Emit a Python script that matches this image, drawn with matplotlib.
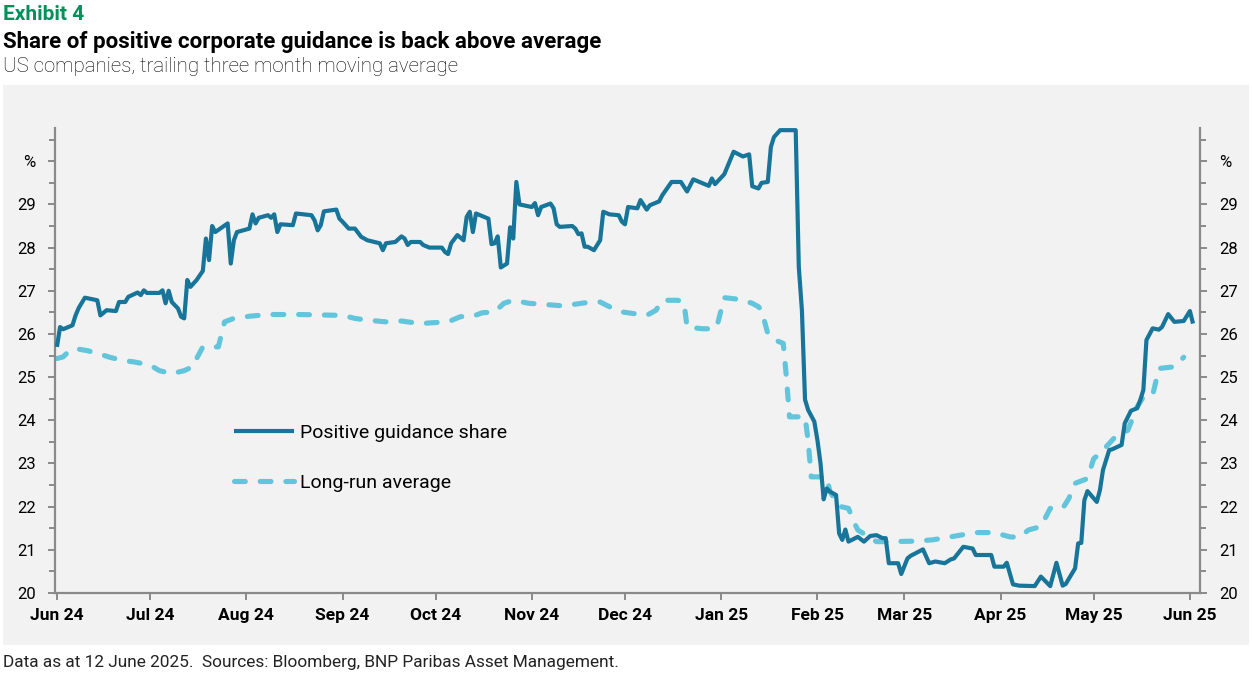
import matplotlib
matplotlib.use("Agg")
import matplotlib.pyplot as plt
import pandas as pd
from matplotlib.ticker import FixedLocator, MultipleLocator, FuncFormatter
from matplotlib.patches import Rectangle
import matplotlib.dates as mdates

# ---------------- data ----------------
guidance_dates = [
    "2024-06-01", "2024-06-02", "2024-06-03", "2024-06-06", "2024-06-07", "2024-06-08", "2024-06-10", "2024-06-14",
    "2024-06-15", "2024-06-17", "2024-06-20", "2024-06-21", "2024-06-23", "2024-06-24", "2024-06-27", "2024-06-28",
    "2024-06-29", "2024-06-30",
    "2024-07-04", "2024-07-05", "2024-07-06", "2024-07-07", "2024-07-08", "2024-07-10", "2024-07-11", "2024-07-12",
    "2024-07-13", "2024-07-14", "2024-07-16", "2024-07-18", "2024-07-19", "2024-07-20", "2024-07-21", "2024-07-22",
    "2024-07-26", "2024-07-27", "2024-07-28", "2024-07-29",
    "2024-08-02", "2024-08-03", "2024-08-04", "2024-08-05", "2024-08-08", "2024-08-09", "2024-08-10", "2024-08-11",
    "2024-08-12", "2024-08-16", "2024-08-17", "2024-08-22", "2024-08-23", "2024-08-24", "2024-08-25", "2024-08-26",
    "2024-08-30", "2024-08-31",
    "2024-09-01", "2024-09-03", "2024-09-05", "2024-09-07", "2024-09-09", "2024-09-13", "2024-09-14", "2024-09-15",
    "2024-09-18", "2024-09-20", "2024-09-21", "2024-09-22", "2024-09-23", "2024-09-26", "2024-09-27", "2024-09-29",
    "2024-10-03", "2024-10-04", "2024-10-05", "2024-10-06", "2024-10-08", "2024-10-10", "2024-10-11", "2024-10-12",
    "2024-10-13", "2024-10-14", "2024-10-18", "2024-10-19", "2024-10-20", "2024-10-21", "2024-10-22", "2024-10-24",
    "2024-10-25", "2024-10-26", "2024-10-27", "2024-10-28",
    "2024-11-01", "2024-11-02", "2024-11-03", "2024-11-04", "2024-11-07", "2024-11-08", "2024-11-09", "2024-11-10",
    "2024-11-14", "2024-11-15", "2024-11-16", "2024-11-17", "2024-11-18", "2024-11-19", "2024-11-21", "2024-11-23",
    "2024-11-24", "2024-11-26", "2024-11-29", "2024-11-30",
    "2024-12-01", "2024-12-02", "2024-12-05", "2024-12-06", "2024-12-08", "2024-12-09", "2024-12-12", "2024-12-13",
    "2024-12-16", "2024-12-19", "2024-12-21", "2024-12-23", "2024-12-28", "2024-12-29", "2024-12-30",
    "2025-01-02", "2025-01-05", "2025-01-08", "2025-01-10", "2025-01-11", "2025-01-13", "2025-01-14", "2025-01-16",
    "2025-01-17", "2025-01-18", "2025-01-20", "2025-01-25", "2025-01-26", "2025-01-27", "2025-01-28", "2025-01-29",
    "2025-01-31",
    "2025-02-01", "2025-02-02", "2025-02-03", "2025-02-04", "2025-02-05", "2025-02-07", "2025-02-08", "2025-02-09",
    "2025-02-10", "2025-02-11", "2025-02-14", "2025-02-16", "2025-02-18", "2025-02-20", "2025-02-22", "2025-02-23",
    "2025-02-24", "2025-02-27", "2025-02-28",
    "2025-03-02", "2025-03-03", "2025-03-07", "2025-03-09", "2025-03-11", "2025-03-14", "2025-03-16", "2025-03-17",
    "2025-03-20", "2025-03-23", "2025-03-24", "2025-03-29", "2025-03-30",
    "2025-04-02", "2025-04-03", "2025-04-05", "2025-04-07", "2025-04-12", "2025-04-14", "2025-04-17", "2025-04-19",
    "2025-04-21", "2025-04-22", "2025-04-25", "2025-04-26", "2025-04-27", "2025-04-28", "2025-04-29",
    "2025-05-02", "2025-05-03", "2025-05-04", "2025-05-06", "2025-05-07", "2025-05-10", "2025-05-11", "2025-05-13",
    "2025-05-15", "2025-05-16", "2025-05-17", "2025-05-18", "2025-05-20", "2025-05-22", "2025-05-23", "2025-05-25",
    "2025-05-27", "2025-05-30",
    "2025-06-01", "2025-06-02",
]
guidance_share = [
    25.70, 26.16, 26.11, 26.20, 26.43, 26.60, 26.84, 26.78, 26.43, 26.55, 26.53, 26.74, 26.74, 26.86, 26.96, 26.90,
    27.01, 26.95,
    26.95, 27.01, 26.71, 27.00, 26.74, 26.59, 26.40, 26.36, 27.25, 27.09, 27.25, 27.46, 28.21, 27.71, 28.50, 28.36,
    28.56, 27.63, 28.17, 28.36,
    28.44, 28.77, 28.56, 28.69, 28.75, 28.69, 28.77, 28.36, 28.54, 28.52, 28.79, 28.75, 28.63, 28.40, 28.52, 28.84,
    28.88, 28.67,
    28.60, 28.44, 28.44, 28.25, 28.17, 28.10, 27.94, 28.10, 28.13, 28.26, 28.21, 28.06, 28.13, 28.13, 28.06, 28.00,
    28.00, 27.90, 27.85, 28.10, 28.29, 28.17, 28.71, 28.83, 28.36, 28.79, 28.67, 28.08, 28.10, 28.26, 27.54, 27.63,
    28.47, 28.21, 29.52, 29.00,
    28.94, 29.03, 28.75, 28.94, 29.02, 28.91, 28.54, 28.48, 28.50, 28.44, 28.31, 28.33, 28.02, 28.02, 27.94, 28.17,
    28.83, 28.77, 28.75, 28.60,
    28.54, 28.94, 28.91, 29.10, 28.88, 28.98, 29.07, 29.21, 29.52, 29.52, 29.30, 29.58, 29.43, 29.60, 29.47,
    29.70, 30.22, 30.11, 30.16, 29.42, 29.37, 29.50, 29.52, 30.33, 30.56, 30.72, 30.72, 27.55, 26.55, 24.48, 24.24,
    23.97,
    23.54, 23.00, 22.17, 22.42, 22.35, 22.27, 21.38, 21.23, 21.47, 21.19, 21.30, 21.19, 21.32, 21.34, 21.27, 21.27,
    20.69, 20.69, 20.44,
    20.80, 20.86, 21.01, 20.69, 20.73, 20.69, 20.78, 20.80, 21.07, 21.03, 20.88, 20.88, 20.61,
    20.61, 20.70, 20.20, 20.17, 20.16, 20.38, 20.16, 20.70, 20.17, 20.21, 20.57, 21.15, 21.16, 22.15, 22.36,
    22.11, 22.38, 22.85, 23.31, 23.33, 23.43, 23.93, 24.22, 24.28, 24.47, 24.70, 25.86, 26.13, 26.10, 26.16, 26.46,
    26.28, 26.30,
    26.53, 26.24,
]

average_dates = [
    "2024-06-01", "2024-06-03", "2024-06-05", "2024-06-07", "2024-06-11", "2024-06-15", "2024-06-18", "2024-06-22",
    "2024-06-26",
    "2024-07-01", "2024-07-04", "2024-07-08", "2024-07-12", "2024-07-15", "2024-07-16", "2024-07-18", "2024-07-23",
    "2024-07-25", "2024-07-28",
    "2024-08-02", "2024-08-08", "2024-08-18",
    "2024-09-01", "2024-09-05", "2024-09-09", "2024-09-15", "2024-09-20", "2024-09-26", "2024-09-30",
    "2024-10-05", "2024-10-09", "2024-10-13", "2024-10-16", "2024-10-20", "2024-10-23", "2024-10-26", "2024-10-31",
    "2024-11-04", "2024-11-11", "2024-11-18", "2024-11-23", "2024-11-26", "2024-11-30",
    "2024-12-04", "2024-12-08", "2024-12-11", "2024-12-13", "2024-12-18", "2024-12-20", "2024-12-21", "2024-12-26",
    "2024-12-30", "2024-12-31",
    "2025-01-02", "2025-01-07", "2025-01-11", "2025-01-13", "2025-01-14", "2025-01-16", "2025-01-18", "2025-01-21",
    "2025-01-22", "2025-01-23", "2025-01-28", "2025-01-29", "2025-01-30",
    "2025-02-04", "2025-02-05", "2025-02-08", "2025-02-11", "2025-02-13", "2025-02-14", "2025-02-20", "2025-02-24",
    "2025-03-04", "2025-03-10", "2025-03-15", "2025-03-24", "2025-03-30",
    "2025-04-04", "2025-04-07", "2025-04-10", "2025-04-14", "2025-04-17", "2025-04-21", "2025-04-23", "2025-04-25",
    "2025-04-29",
    "2025-05-01", "2025-05-03", "2025-05-08", "2025-05-12", "2025-05-15", "2025-05-17", "2025-05-20", "2025-05-22",
    "2025-05-27", "2025-05-30",
]
long_run_average = [
    25.43, 25.47, 25.61, 25.66, 25.61, 25.53, 25.46, 25.39, 25.35,
    25.28, 25.15, 25.08, 25.15, 25.25, 25.43, 25.70, 25.70, 26.28, 26.36,
    26.41, 26.45, 26.45,
    26.43, 26.36, 26.32, 26.28, 26.30, 26.24, 26.26,
    26.28, 26.40, 26.41, 26.49, 26.51, 26.71, 26.78, 26.71,
    26.69, 26.65, 26.72, 26.74, 26.63, 26.51,
    26.47, 26.43, 26.55, 26.78, 26.78, 26.74, 26.16, 26.12, 26.12, 26.28,
    26.84, 26.80, 26.71, 26.63, 26.55, 26.01, 25.87, 25.78, 25.00, 24.08, 24.08, 23.54, 22.69,
    22.69, 22.35, 22.01, 21.96, 21.61, 21.46, 21.19, 21.19,
    21.20, 21.23, 21.29, 21.40, 21.40,
    21.30, 21.29, 21.46, 21.54, 21.96, 21.96, 22.19, 22.54, 22.65,
    23.11, 23.23, 23.62, 23.77, 24.31, 24.54, 24.58, 25.20, 25.24, 25.46,
]

month_ticks = pd.date_range("2024-06-01", "2025-06-01", freq="MS")
y_ticks = list(range(20, 31))
series_labels = ["Positive guidance share", "Long-run average"]

# ---------------- style ----------------
W, H = 1252, 678
DARK = "#17759a"
LIGHT = "#62c5db"
GREY_BG = "#f2f2f2"
SPINE = "#8a8a8a"
GREEN = "#00915a"
TITLE_FONT = ["Roboto", "DejaVu Sans"]
BODY_FONT = ["Roboto", "DejaVu Sans"]

plt.rcParams["font.family"] = BODY_FONT

fig = plt.figure(figsize=(W / 100, H / 100), dpi=100)
fig.patch.set_facecolor("white")
bg = Rectangle((3 / W, 1 - 645 / H), (1249 - 3) / W, (645 - 85) / H,
               transform=fig.transFigure, facecolor=GREY_BG, edgecolor="none", zorder=-10)
fig.add_artist(bg)

ax_l, ax_r, ax_t, ax_b = 55, 1200, 128, 593
ax = fig.add_axes([ax_l / W, 1 - ax_b / H, (ax_r - ax_l) / W, (ax_b - ax_t) / H])
ax.set_zorder(5)
ax.patch.set_visible(False)

g_dates = pd.to_datetime(guidance_dates)
a_dates = pd.to_datetime(average_dates)

l1, = ax.plot(g_dates, guidance_share, color=DARK, lw=3.0, solid_joinstyle="round",
              solid_capstyle="butt", label=series_labels[0], zorder=3)
l2, = ax.plot(a_dates, long_run_average, color=LIGHT, lw=3.7, dashes=(2.1, 2.9),
              dash_capstyle="round", label=series_labels[1], zorder=2)

ax.set_ylim(20, 30.77)
x0 = pd.Timestamp("2024-06-01") - pd.Timedelta(hours=15)
x1 = pd.Timestamp("2025-06-04") + pd.Timedelta(hours=6)
ax.set_xlim(x0, x1)

ax.yaxis.set_major_locator(FixedLocator(y_ticks))
ax.yaxis.set_minor_locator(MultipleLocator(0.5))
ax.yaxis.set_major_formatter(FuncFormatter(lambda v, p: "%" if round(v) == 30 else f"{v:.0f}"))
ax.xaxis.set_major_locator(FixedLocator(mdates.date2num(month_ticks)))
ax.xaxis.set_major_formatter(mdates.DateFormatter("%b %y"))

ax.spines["top"].set_visible(False)
for s in ["left", "right", "bottom"]:
    ax.spines[s].set_color(SPINE)
    ax.spines[s].set_linewidth(1.6)

ax.tick_params(axis="y", which="both", left=True, right=True, labelleft=True, labelright=True,
               direction="out", color=SPINE, width=1.4, labelsize=12, pad=9, labelcolor="black")
ax.tick_params(axis="y", which="major", length=5)
ax.tick_params(axis="y", which="minor", length=4)
ax.tick_params(axis="x", which="major", direction="out", length=5, width=1.4, color=SPINE,
               labelsize=12.5, pad=6, labelcolor="black")
for t in ax.get_xticklabels():
    t.set_fontweight("bold")

leg = ax.legend(handles=[l1, l2], loc="upper left",
                bbox_to_anchor=((234 - ax_l) / (ax_r - ax_l), (ax_b - 424) / (ax_b - ax_t)),
                frameon=False, fontsize=14, handlelength=3.1, handletextpad=0.3, labelspacing=1.65,
                borderaxespad=0, borderpad=0)

fig.text(3 / W, 1 - 14 / H, "Exhibit 4", color=GREEN, fontsize=15, fontweight="bold",
         family=TITLE_FONT, va="center", ha="left")
fig.text(3 / W, 1 - 42 / H, "Share of positive corporate guidance is back above average", color="black",
         fontsize=16, fontweight="bold", family=TITLE_FONT, va="center", ha="left")
fig.text(3 / W, 1 - 67 / H, "US companies, trailing three month moving average", color="black",
         fontsize=14.7, fontweight="light", family=TITLE_FONT, va="center", ha="left")
fig.text(3 / W, 1 - 662 / H, "Data as at 12 June 2025.  Sources: Bloomberg, BNP Paribas Asset Management.",
         color="#222222", fontsize=12.4, family=TITLE_FONT, va="center", ha="left")

fig.savefig("out.png", dpi=100, facecolor="white")
